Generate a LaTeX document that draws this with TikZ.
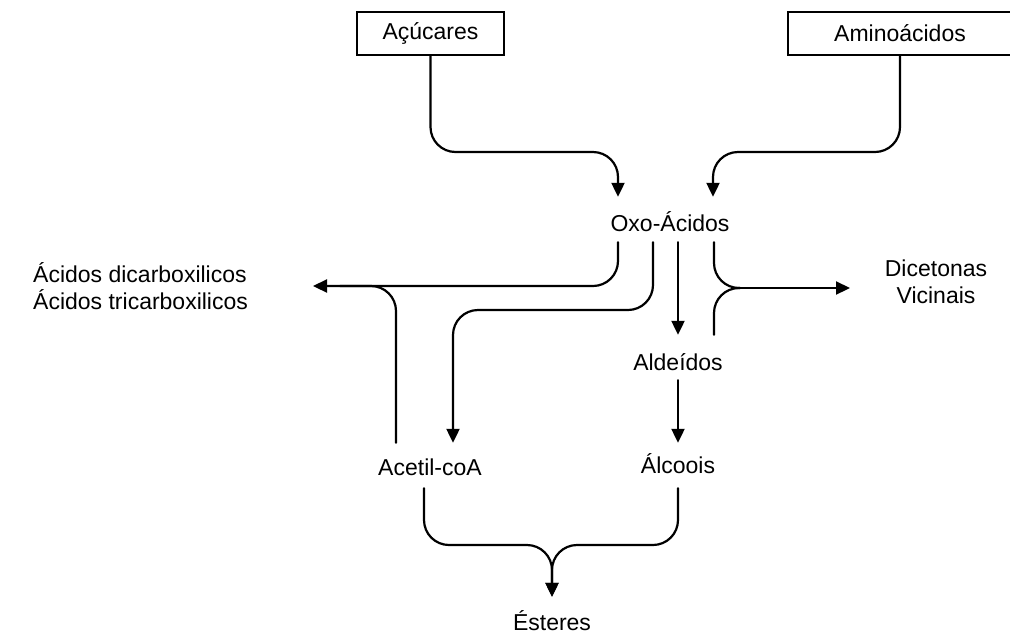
\documentclass[tikz,border=0pt]{standalone}
\usepackage{fontspec}
\setmainfont{Liberation Sans}
\usetikzlibrary{arrows.meta}
\begin{document}
\begin{tikzpicture}[x=1pt,y=-1pt,
  every node/.style={font=\fontsize{23}{27}\selectfont},
  conn/.style={line width=2.2pt, line cap=round},
  arr/.style={conn, -{Triangle[length=14pt,width=13pt]}},
  rc/.style={rounded corners=25pt},
  lbl/.style={inner sep=0pt, anchor=base},
  boxnode/.style={draw, line width=2.2pt, minimum width=147pt, minimum height=43pt, inner sep=0pt}]
\useasboundingbox (0,0) rectangle (1010,633);

% top boxes
\node[boxnode] (acu) at (430.5,33.5) {Açúcares};
\node[inner sep=0pt, minimum height=43pt] (amino) at (900,33.5) {Aminoácidos};
\draw[line width=2.2pt] (1014,12) -| (788,55) -- (1014,55);

% labels
\node[lbl, text height=34pt, text depth=11pt] (oxo) at (670,231) {Oxo-Ácidos};
\node[lbl, text height=35pt, text depth=10pt] (ald) at (678,370) {Aldeídos};
\node[lbl, text height=30pt, text depth=15pt] (alc) at (678,473) {Álcoois};
\node[lbl, text height=32pt, text depth=13pt] (acet) at (430,475) {Acetil-coA};
\node[lbl, text height=33pt, text depth=3pt] (est) at (552,630) {Ésteres};
\node[inner sep=0pt, align=left, anchor=west] (acid) at (33,286.5) {Ácidos dicarboxilicos\\Ácidos tricarboxilicos};
\node[inner ysep=0pt, inner xsep=0pt, align=center] (dic) at (936,282) {Dicetonas\\Vicinais};

\coordinate (acidtip) at (313,286);
\coordinate (dictip) at (850,288);
\coordinate (dj) at (740,288);

% into Oxo-Acidos
\draw[arr,rc] (acu.south) |- (618,152) -- ([xshift=-52pt]oxo.north);
\draw[arr,rc] (amino.south) |- (713,152) -- ([xshift=43pt]oxo.north);

% out of Oxo-Acidos
\draw[arr,rc] ([xshift=-52pt]oxo.south) |- (acidtip);
\draw[conn,rc] ([xshift=-34pt]acet.north) |- (340,286);
\draw[arr,rc] ([xshift=-17pt]oxo.south) |- (453,310) -- ([xshift=23pt]acet.north);
\draw[arr] ([xshift=8pt]oxo.south) -- (ald.north);
\draw[conn,rc] ([xshift=44pt]oxo.south) |- (dj);
\draw[conn,rc] ([xshift=36pt]ald.north) |- (dj);
\draw[arr] (dj) -- (dictip);

% lower part
\draw[arr] (ald.south) -- (alc.north);
\draw[arr,rc] ([xshift=-6pt]acet.south) |- (552,545) -- (est.north);
\draw[arr,rc] (alc.south) |- (552,545) -- (est.north);
\end{tikzpicture}
\end{document}
